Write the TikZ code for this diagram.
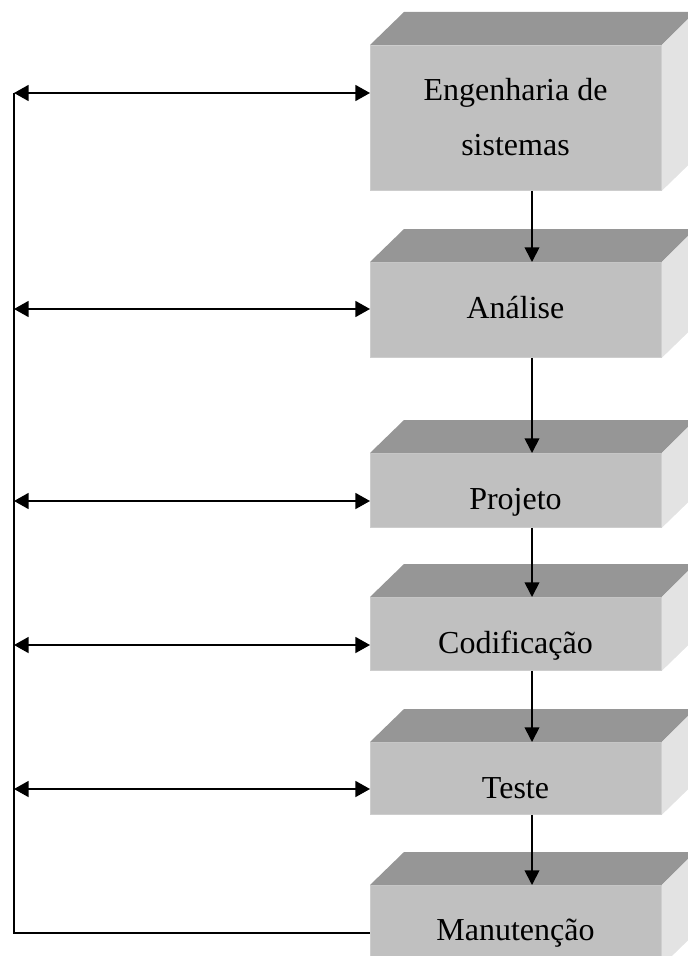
\documentclass[tikz,border=0pt]{standalone}
\usepackage{fontspec}
\setmainfont{Liberation Serif}
\usetikzlibrary{arrows.meta}

\definecolor{facefront}{HTML}{C0C0C0}
\definecolor{facetop}{HTML}{969696}
\definecolor{faceside}{HTML}{E3E3E3}
\definecolor{faceedge}{HTML}{CDCDCD}

\tikzset{
  stage/.style={rectangle, anchor=north west, inner sep=0pt,
    minimum width=218.25pt, fill=facefront, draw=faceedge, line width=0.6pt},
  lbl/.style={font=\fontsize{24}{41.25}\selectfont, inner sep=0pt, anchor=base},
  link/.style={line width=1.3pt, -{Triangle[length=11pt,width=11pt]}},
  both/.style={line width=1.3pt, {Triangle[length=11pt,width=12pt]}-{Triangle[length=11pt,width=12pt]}},
  rail/.style={line width=1.3pt},
}

% top and right faces of a slab, drawn behind its front face
\newcommand{\slabsides}[1]{%
  \fill[facetop] (#1.north west) -- ++(34,-33) -- ++(291,0) -- (#1.north east) -- cycle;
  \fill[faceside] (#1.north east) -- ++(34,-33) |- ([xshift=25.5pt,yshift=24.75pt]#1.south east) -- (#1.south east) -- cycle;
}

\begin{document}
\begin{tikzpicture}[x=0.75pt, y=-0.75pt]
\useasboundingbox (0,0) rectangle (688,956);
\clip (0,0) rectangle (688,956);

% front faces of the stages
\node[stage, minimum height=108.75pt] (b1) at (370,45) {};
\node[stage, minimum height=71.25pt]  (b2) at (370,262) {};
\node[stage, minimum height=55.5pt]   (b3) at (370,453) {};
\node[stage, minimum height=54.75pt]  (b4) at (370,597) {};
\node[stage, minimum height=54pt]     (b5) at (370,742) {};
\node[stage, minimum height=60pt]     (b6) at (370,885) {};

\slabsides{b1}
\slabsides{b2}
\slabsides{b3}
\slabsides{b4}
\slabsides{b5}
\slabsides{b6}

% stage names (a two-line node sits on its last baseline)
\node[lbl, align=center] (t1) at (515.5,155) {Engenharia de\\sistemas};
\node[lbl] (t2) at (515.5,318) {Análise};
\node[lbl] (t3) at (515.5,509) {Projeto};
\node[lbl] (t4) at (515.5,653) {Codificação};
\node[lbl] (t5) at (515.5,798) {Teste};
\node[lbl] (t6) at (515.5,940) {Manutenção};

% flow down through the stages
\coordinate (spine) at (532,0);
\draw[link] (b1.south -| spine) -- (b2.north -| spine);
\draw[link] (b2.south -| spine) -- (b3.north -| spine);
\draw[link] (b3.south -| spine) -- (b4.north -| spine);
\draw[link] (b4.south -| spine) -- (b5.north -| spine);
\draw[link] (b5.south -| spine) -- (b6.north -| spine);

% feedback rail on the left
\coordinate (a1) at (14,93);
\coordinate (a2) at (14,309);
\coordinate (a3) at (14,501);
\coordinate (a4) at (14,645);
\coordinate (a5) at (14,789);
\coordinate (a6) at (14,933);
\draw[both] (a1) -- (a1 -| b1.west);
\draw[both] (a2) -- (a2 -| b2.west);
\draw[both] (a3) -- (a3 -| b3.west);
\draw[both] (a4) -- (a4 -| b4.west);
\draw[both] (a5) -- (a5 -| b5.west);
\draw[rail] (a1) -- (a6) -- (a6 -| b6.west);
\end{tikzpicture}
\end{document}
